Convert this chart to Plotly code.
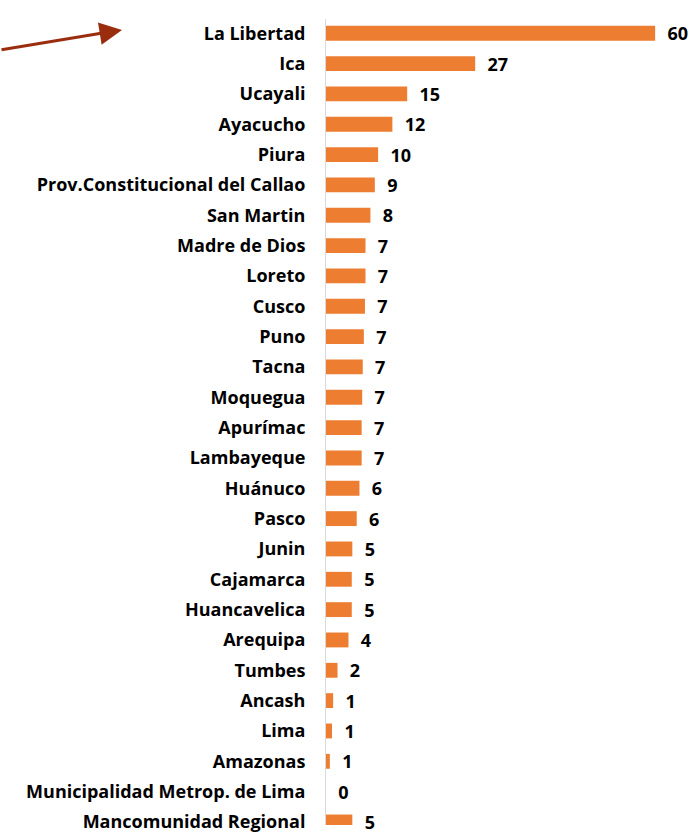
import plotly.graph_objects as go

regions = [
    "La Libertad", "Ica", "Ucayali", "Ayacucho", "Piura",
    "Prov.Constitucional del Callao", "San Martin", "Madre de Dios",
    "Loreto", "Cusco", "Puno", "Tacna", "Moquegua", "Apurímac",
    "Lambayeque", "Huánuco", "Pasco", "Junin", "Cajamarca",
    "Huancavelica", "Arequipa", "Tumbes", "Ancash", "Lima",
    "Amazonas", "Municipalidad Metrop. de Lima", "Mancomunidad Regional",
]
values = [
    60.0, 27.2, 14.8, 12.1, 9.5,
    8.9, 8.1, 7.2,
    7.2, 7.1, 6.9, 6.7, 6.6, 6.5,
    6.5, 6.1, 5.6, 4.8, 4.7,
    4.7, 4.1, 2.1, 1.3, 1.1,
    0.7, 0.0, 4.8,
]
shown_labels = ["60", "27", "15", "12", "10", "9", "8", "7", "7", "7", "7", "7", "7", "7",
                "7", "6", "6", "5", "5", "5", "4", "2", "1", "1", "1", "0", "5"]

BAR_COLOR = "#ED7D31"
FONT = "Open Sans"

fig = go.Figure(
    go.Bar(
        y=regions,
        x=values,
        orientation="h",
        marker=dict(color=BAR_COLOR, line=dict(width=0)),
        text=["\u00a0\u00a0" + s for s in shown_labels],
        textposition="outside",
        constraintext="none",
        cliponaxis=False,
        textfont=dict(family=FONT, size=18, color="#000000", weight="bold"),
        hoverinfo="skip",
    )
)

fig.update_layout(
    width=693,
    height=833,
    margin=dict(l=326, r=0, t=19, b=0),
    paper_bgcolor="white",
    plot_bgcolor="white",
    bargap=0.51,
    showlegend=False,
    font=dict(family=FONT, size=18, color="#000000"),
)

fig.update_xaxes(
    range=[0, 66.9],
    visible=False,
    showgrid=False,
    zeroline=False,
)
fig.update_yaxes(
    type="category",
    categoryorder="array",
    categoryarray=regions,
    range=[26.1, -0.47],
    showgrid=False,
    zeroline=False,
    showline=True,
    linecolor="#d9d9d9",
    linewidth=1,
    ticks="",
    ticklabelstandoff=16,
    tickfont=dict(family=FONT, size=18, color="#000000", weight="bold"),
)

# arrow pointing at the top bar
fig.add_annotation(
    xref="paper", yref="paper",
    x=(122 - 326) / 367, y=(833 - 30) / 814,
    ax=-122, ay=20,
    axref="pixel", ayref="pixel",
    text="", showarrow=True,
    arrowhead=2, arrowsize=1.5, arrowwidth=3,
    arrowcolor="#9B2D0F", standoff=0,
)

fig.write_html(
    "out.html",
    config={"displayModeBar": False, "staticPlot": True},
    post_script="document.body.style.margin='0';document.body.style.overflow='hidden';",
)
